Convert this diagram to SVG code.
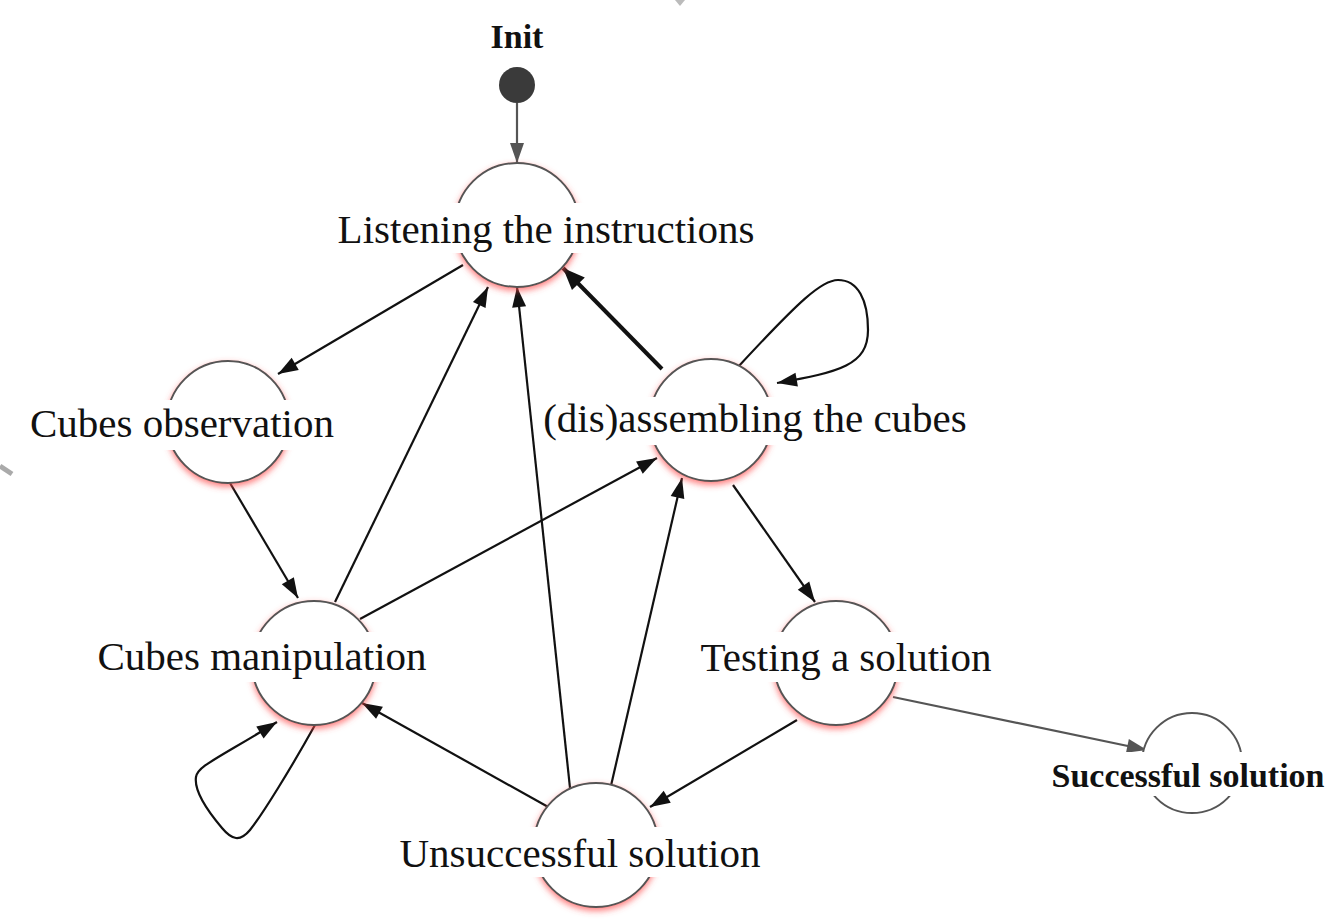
<svg xmlns="http://www.w3.org/2000/svg" width="1339" height="921" viewBox="0 0 1339 921">
<style>
  .node { fill: #ffffff; stroke: #555555; stroke-width: 2; }
  .glow { filter: url(#glow); }
  .lbl { font-family: "Liberation Serif", "Times New Roman", serif; font-size: 41px; fill: #111111; text-anchor: middle; }
  .blbl { font-family: "Liberation Serif", "Times New Roman", serif; font-size: 34px; font-weight: bold; fill: #111111; text-anchor: middle; }
  .bg { fill: #ffffff; }
  .edge { fill: none; stroke: #111111; stroke-width: 2.2; marker-end: url(#arr); }
  .thick { stroke-width: 4; marker-end: url(#arrT); }
  .gray { fill: none; stroke: #555555; stroke-width: 2.2; marker-end: url(#arrG); }
</style>
<defs>
  <filter id="glow" x="-30%" y="-30%" width="160%" height="170%">
    <feDropShadow dx="0" dy="3" stdDeviation="3" flood-color="#ff4a4a" flood-opacity="0.7"/>
  </filter>
  <marker id="arr" markerUnits="userSpaceOnUse" refX="0" refY="0" markerWidth="30" markerHeight="30" orient="auto" overflow="visible">
    <path d="M-20,-7 L0,0 L-20,7 z" fill="#111111"/>
  </marker>
  <marker id="arrT" markerUnits="userSpaceOnUse" refX="0" refY="0" markerWidth="30" markerHeight="30" orient="auto" overflow="visible">
    <path d="M-22,-9 L0,0 L-22,9 z" fill="#111111"/>
  </marker>
  <marker id="arrG" markerUnits="userSpaceOnUse" refX="0" refY="0" markerWidth="30" markerHeight="30" orient="auto" overflow="visible">
    <path d="M-20,-7 L0,0 L-20,7 z" fill="#555555"/>
  </marker>
</defs>
<rect width="1339" height="921" fill="#ffffff"/>
<!-- faint artifacts -->
<path d="M675,0 L685,0 L680,6 z" fill="#bbbbbb"/>
<line x1="0" y1="466" x2="12" y2="474" stroke="#aaaaaa" stroke-width="5"/>

<g id="connectors">
  <line class="gray" x1="517" y1="103" x2="517" y2="163"/>
  <line class="edge" x1="463" y1="265" x2="278" y2="374"/>
  <line class="edge" x1="230" y1="483" x2="298" y2="598"/>
  <line class="edge" x1="335" y1="602" x2="488" y2="287"/>
  <line class="edge" x1="360" y1="619" x2="657" y2="458"/>
  <line class="edge" x1="570" y1="788" x2="517" y2="287"/>
  <line class="edge" x1="610" y1="790" x2="682" y2="478"/>
  <line class="edge" x1="550" y1="808" x2="362" y2="703"/>
  <line class="edge thick" x1="662" y1="369" x2="563" y2="268"/>
  <path class="edge" d="M738,367 C800,300 822,280 838,280 C858,280 868,300 868,330 C868,365 840,372 777,383"/>
  <line class="edge" x1="733" y1="485" x2="815" y2="602"/>
  <line class="edge" x1="797" y1="720" x2="650" y2="807"/>
  <line class="gray" x1="893" y1="697" x2="1147" y2="750"/>
  <path class="edge" d="M315,725 C290,770 262,815 250,830 C240,842 232,840 222,828 C205,808 194,790 196,777 C198,766 215,760 277,722"/>
</g>

<g id="init">
  <text class="blbl" x="517" y="48">Init</text>
  <circle cx="517" cy="85" r="18" fill="#3a3a3a"/>
</g>

<g id="listening">
  <circle class="node glow" cx="517" cy="225" r="62"/>
  <rect class="bg" x="334" y="203" width="426" height="50"/>
  <text class="lbl" x="546" y="243">Listening the instructions</text>
</g>

<g id="observation">
  <circle class="node glow" cx="228" cy="422" r="61"/>
  <rect class="bg" x="28" y="400" width="310" height="50"/>
  <text class="lbl" x="182" y="437">Cubes observation</text>
</g>

<g id="assembling">
  <circle class="node glow" cx="711" cy="420" r="61"/>
  <rect class="bg" x="539" y="397" width="432" height="48"/>
  <text class="lbl" x="755" y="432">(dis)assembling the cubes</text>
</g>

<g id="manipulation">
  <circle class="node glow" cx="314" cy="663" r="62"/>
  <rect class="bg" x="95" y="632" width="335" height="50"/>
  <text class="lbl" x="262" y="670">Cubes manipulation</text>
</g>

<g id="testing">
  <circle class="node glow" cx="836" cy="663" r="62"/>
  <rect class="bg" x="698" y="632" width="297" height="50"/>
  <text class="lbl" x="846" y="671">Testing a solution</text>
</g>

<g id="unsuccessful">
  <circle class="node glow" cx="596" cy="845" r="62"/>
  <rect class="bg" x="395" y="827" width="370" height="50"/>
  <text class="lbl" x="580" y="867">Unsuccessful solution</text>
</g>

<g id="successful">
  <circle class="node" cx="1192" cy="763" r="50"/>
  <rect class="bg" x="1046" y="752" width="284" height="44"/>
  <text class="blbl" x="1188" y="787">Successful solution</text>
</g>
</svg>
